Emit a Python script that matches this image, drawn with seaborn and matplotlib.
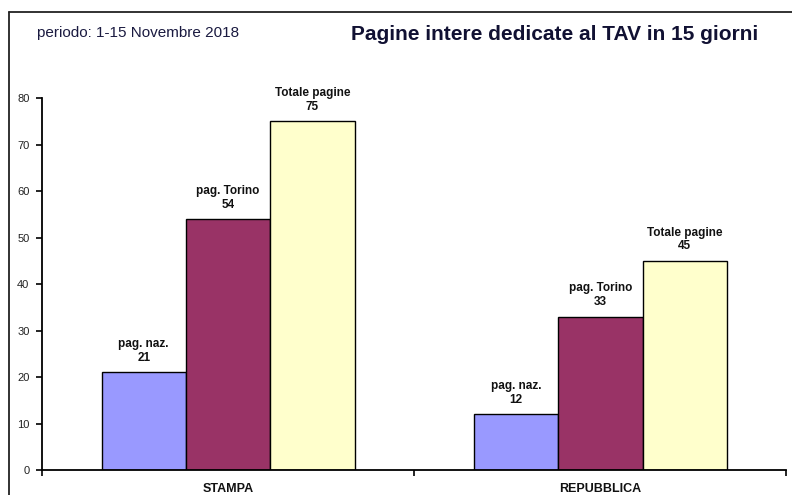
import pandas as pd
import matplotlib.pyplot as plt
import seaborn as sns
from matplotlib.lines import Line2D

# data
testate = ["STAMPA", "REPUBBLICA"]
tipi = ["pag. naz.", "pag. Torino", "Totale pagine"]
stampa = [21, 54, 75]
repubblica = [12, 33, 45]
colori = ["#9999FF", "#993366", "#FFFFCC"]

rows = []
for testata, valori in zip(testate, [stampa, repubblica]):
    for tipo, v in zip(tipi, valori):
        rows.append({"testata": testata, "tipo": tipo, "pagine": v})
df = pd.DataFrame(rows)

sns.set_theme(style="white")
plt.rcParams["font.family"] = ["Liberation Sans", "DejaVu Sans"]

fig = plt.figure(figsize=(7.92, 4.95), dpi=100)
ax = fig.add_axes([0.053, 0.0505, 0.94, 0.7515])

sns.barplot(data=df, x="testata", y="pagine", hue="tipo", order=testate,
            hue_order=tipi, palette=colori, edgecolor="black", linewidth=1.0,
            width=0.68, saturation=1, legend=False, ax=ax)

# labels above the bars
for tipo, cont in zip(tipi, ax.containers):
    vals = [int(b.get_height()) for b in cont]
    ax.bar_label(cont, labels=[f"{tipo}\n{v}" for v in vals], padding=6,
                 fontsize=8.5, fontweight="bold", linespacing=1.2,
                 color="#111111")

ax.set_ylim(0, 80)
ax.set_xlim(-0.5, 1.5)
ax.set_yticks(range(0, 81, 10))
ax.set_xticks([0, 1])
ax.set_xticklabels(testate, fontsize=9, fontweight="bold", color="#111111")
ax.set_xticks([-0.5, 0.5, 1.5], minor=True)
ax.tick_params(axis="x", which="major", length=0, pad=9)
ax.tick_params(axis="x", which="minor", length=4, width=1.2, color="black", bottom=True)
ax.tick_params(axis="y", length=4, width=1.2, color="black", left=True,
               labelsize=8, pad=5, labelcolor="#222222")
ax.set_xlabel("")
ax.set_ylabel("")

for s in ["top", "right"]:
    ax.spines[s].set_visible(False)
for s in ["left", "bottom"]:
    ax.spines[s].set_color("black")
    ax.spines[s].set_linewidth(1.3)

# outer frame (left and top edges visible in the crop)
fig.add_artist(Line2D([0.0114, 0.0114], [0.0, 0.976], color="#222222", lw=1.3))
fig.add_artist(Line2D([0.0114, 1.0], [0.976, 0.976], color="#222222", lw=1.3))

fig.text(0.047, 0.933, "periodo: 1-15 Novembre 2018", fontsize=11,
         color="#1a1a40", va="center")
fig.text(0.957, 0.931, "Pagine intere dedicate al TAV in 15 giorni",
         fontsize=15, fontweight="bold", color="#111133", ha="right", va="center")

fig.savefig("out.png", dpi=100)
